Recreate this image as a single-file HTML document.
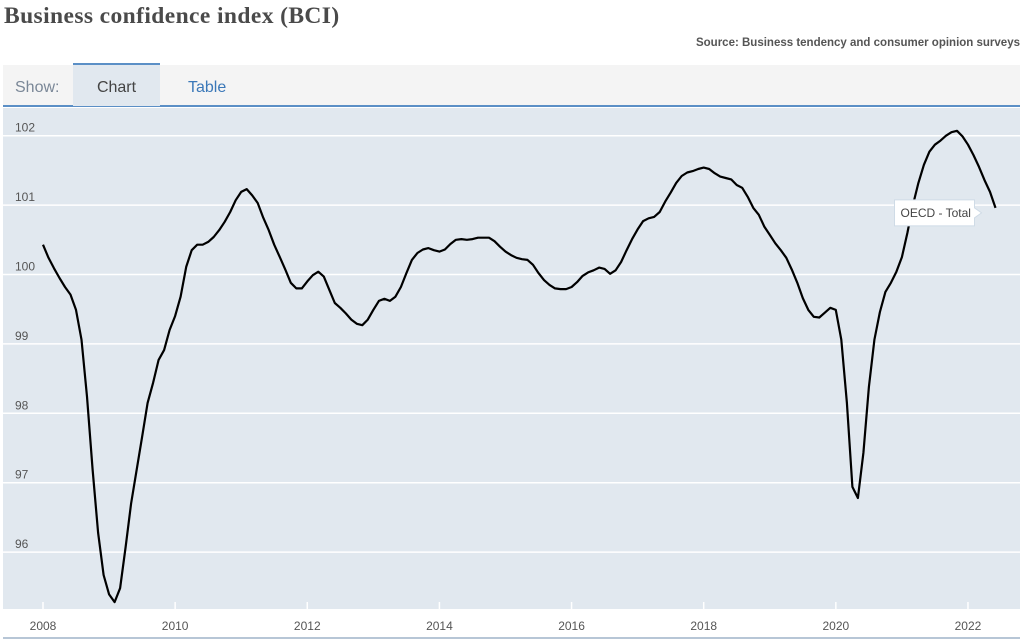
<!DOCTYPE html>
<html><head><meta charset="utf-8"><style>
body{margin:0;width:1024px;height:640px;background:#fff;font-family:"Liberation Sans",sans-serif;overflow:hidden;position:relative}
#title{position:absolute;left:4px;top:3px;font-family:"Liberation Serif",serif;font-weight:bold;font-size:23.5px;color:#4a4a4a;letter-spacing:0.4px}
#source{position:absolute;right:4px;top:37px;font-size:11.5px;font-weight:bold;color:#555}
#tabs{position:absolute;left:3px;top:65px;width:1017px;height:40px;background:#f4f4f4;border-bottom:2px solid #5b8fc6}
.tab{position:absolute;top:3px;height:40px;line-height:40px;font-size:16px}
</style></head><body>
<div id="title">Business confidence index (BCI)</div>
<div id="source">Source: Business tendency and consumer opinion surveys</div>
<div id="tabs">
 <div class="tab" style="left:12px;color:#7a8797">Show:</div>
 <div class="tab" style="left:70px;width:87px;height:38px;line-height:40px;background:#e1e8ef;border-top:2px solid #5b8fc6;top:-2px;padding-top:3px;text-align:center;color:#444">Chart</div>
 <div class="tab" style="left:185px;color:#3b78b8">Table</div>
</div>
<svg id="chart" width="1024" height="640" style="position:absolute;left:0;top:0"></svg>
<script>
const yTicks=[96,97,98,99,100,101,102];
const xTicks=[2008,2010,2012,2014,2016,2018,2020,2022];
const startYear=2008;
const values=[
100.43,100.24,100.09,99.95,99.82,99.71,99.49,99.06,98.24,97.19,96.28,95.67,
95.39,95.28,95.48,96.07,96.7,97.18,97.66,98.15,98.44,98.77,98.91,99.2,
99.4,99.68,100.11,100.35,100.43,100.43,100.47,100.54,100.64,100.76,100.9,101.07,
101.19,101.23,101.14,101.03,100.82,100.64,100.43,100.25,100.07,99.88,99.8,99.8,
99.9,99.99,100.04,99.97,99.78,99.59,99.52,99.44,99.35,99.29,99.27,99.35,
99.49,99.62,99.65,99.62,99.68,99.82,100.02,100.21,100.31,100.36,100.38,100.35,
100.33,100.36,100.44,100.5,100.51,100.5,100.51,100.53,100.53,100.53,100.48,100.4,
100.33,100.28,100.24,100.22,100.21,100.14,100.02,99.92,99.85,99.8,99.79,99.79,
99.82,99.89,99.98,100.03,100.06,100.1,100.08,100.01,100.06,100.18,100.35,100.51,
100.65,100.77,100.81,100.83,100.9,101.05,101.18,101.32,101.42,101.47,101.49,101.52,
101.54,101.52,101.46,101.41,101.39,101.37,101.29,101.25,101.12,100.96,100.86,100.69,
100.57,100.45,100.35,100.24,100.07,99.88,99.66,99.49,99.39,99.38,99.45,99.52,
99.49,99.06,98.15,96.94,96.78,97.43,98.38,99.06,99.46,99.75,99.88,100.04,
100.25,100.6,101.0,101.32,101.58,101.77,101.87,101.93,102.0,102.05,102.07,101.99,
101.87,101.72,101.55,101.36,101.19,100.96];
const seriesName='OECD - Total';
const NS='http://www.w3.org/2000/svg';
const svg=document.getElementById('chart');
const X=yr=>43+(yr-2008)*66.07;
const Y=v=>274.5-(v-100)*69.4;
function mk(t,a){const e=document.createElementNS(NS,t);for(const k in a)e.setAttribute(k,a[k]);svg.appendChild(e);return e;}
const bg=mk('rect',{x:3,y:108,width:1017,height:501,fill:'#e1e8ef'});


yTicks.forEach(v=>{
 const l=mk('line',{x1:3,x2:1020,y1:Y(v),y2:Y(v),stroke:'#fff','stroke-width':1.5});
 
 
 const t=mk('text',{x:15,y:Y(v)-4,'font-size':12,fill:'#555','font-family':'Liberation Sans, sans-serif'});
 t.textContent=v;
 
 
});
xTicks.forEach(yr=>{
 const l=mk('line',{x1:X(yr),x2:X(yr),y1:602,y2:609,stroke:'#fff','stroke-width':1.5});
 
 
 const t=mk('text',{x:X(yr),y:630,'font-size':12,fill:'#555','text-anchor':'middle','font-family':'Liberation Sans, sans-serif'});
 t.textContent=yr;
 
 
});
const bl=mk('line',{x1:3,x2:1020,y1:638,y2:638,stroke:'#9fb4c8','stroke-width':1.5});


const pts=values.map((v,i)=>X(startYear+i/12).toFixed(1)+','+Y(v).toFixed(1)).join(' ');
const line=mk('polyline',{points:pts,fill:'none',stroke:'#000','stroke-width':2.2,'stroke-linejoin':'round'});


const lx=X(startYear+(values.length-1)/12), ly=Y(values[values.length-1]);
const g=document.createElementNS(NS,'g');svg.appendChild(g);


const bx=lx-101, by=ly-8;
const p=document.createElementNS(NS,'path');
p.setAttribute('d',`M${bx},${by} h80 v8 l7,5 l-7,5 v8 h-80 z`);
p.setAttribute('fill','#fff');p.setAttribute('stroke','#cfdbe6');
g.appendChild(p);
const tt=document.createElementNS(NS,'text');
tt.setAttribute('x',bx+6);tt.setAttribute('y',by+17);tt.setAttribute('font-size',12);tt.setAttribute('fill','#444');
tt.setAttribute('font-family','Liberation Sans, sans-serif');
tt.textContent=seriesName;g.appendChild(tt);
</script>
</body></html>
